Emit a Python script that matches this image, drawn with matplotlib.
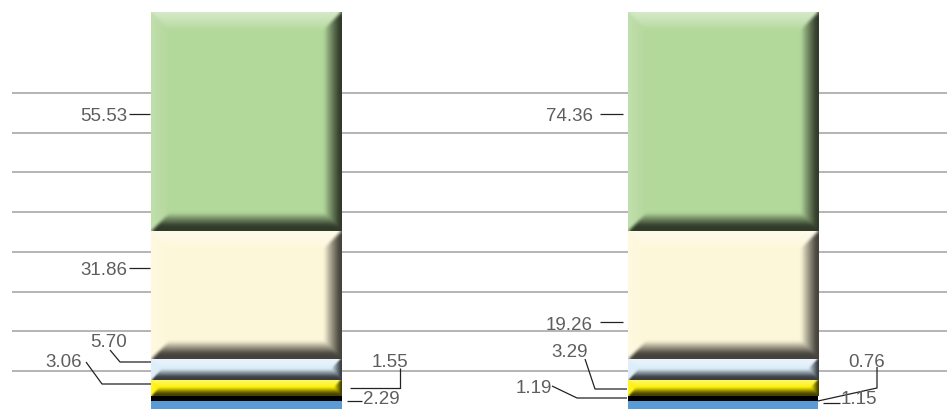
import numpy as np
import matplotlib
matplotlib.use("Agg")
import matplotlib.pyplot as plt

# ---------------- data ----------------
categories = ["Bar A", "Bar B"]
segments = ["Blue", "Black", "Yellow", "Light blue", "Cream", "Green"]
segment_colors = ["#5b9bd5", "#000000", "#fff200", "#d9ecf9", "#fdf7d9", "#b3d89b"]
segment_bevel = [False, False, True, True, True, True]

# segment heights as drawn in the picture (same for both bars)
left_heights = [2.44, 1.26, 4.03, 5.29, 32.23, 55.15]
right_heights = [2.44, 1.26, 4.03, 5.29, 32.23, 55.15]

# value labels printed beside the bars
left_labels = [55.53, 31.86, 5.70, 3.06, 1.55, 2.29]
right_labels = [74.36, 19.26, 3.29, 1.19, 0.76, 1.15]

gridlines = [10, 20, 30, 40, 50, 60, 70, 80]

# ---------------- figure ----------------
W_PX, H_PX = 947, 410
fig = plt.figure(figsize=(W_PX / 100, H_PX / 100), dpi=100)
ax = fig.add_axes([0, 0, 1, 1])
ax.set_xlim(-0.517, 1.470)
ax.set_ylim(0.43, 103.68)
ax.axis("off")

inv = ax.transData.inverted()


def P(x, y):
    """pixel position (from top-left) -> data coords"""
    return inv.transform((x, H_PX - y))


px_per_x = W_PX / (1.470 + 0.517)
px_per_y = H_PX / (103.68 - 0.43)

# gridlines
gx0 = P(12, 0)[0]
ax.hlines(gridlines, gx0, 1.470, color="#a8a8a8", lw=1.2, zorder=0)


def box_blur(img, r=2):
    if r <= 0:
        return img
    k = np.ones(2 * r + 1) / (2 * r + 1)
    pad = np.pad(img, ((r, r), (0, 0), (0, 0)), mode="edge")
    out = np.stack([np.apply_along_axis(lambda c: np.convolve(c, k, mode="valid"), 0, pad[:, :, ch])
                    for ch in range(3)], axis=-1)
    pad = np.pad(out, ((0, 0), (r, r), (0, 0)), mode="edge")
    out = np.stack([np.apply_along_axis(lambda c: np.convolve(c, k, mode="valid"), 1, pad[:, :, ch])
                    for ch in range(3)], axis=-1)
    return out


def bevel_image(rgb, W, H, bevel=18):
    W = max(int(round(W)), 1)
    H = max(int(round(H)), 1)
    u = np.arange(W)[None, :] + 0.5
    v = np.arange(H)[:, None] + 0.5
    dl = np.broadcast_to(u, (H, W))
    dr = W - dl
    dt = np.broadcast_to(v, (H, W))
    db = H - dt
    b = min(bevel, H / 2, W / 2)
    stack = np.stack([dl, dr, dt, db])
    idx = np.argmin(stack, axis=0)
    d = np.min(stack, axis=0)
    t = np.clip(1 - d / b, 0, 1)
    base = np.array(rgb, dtype=float)
    dark = base * 0.27
    img = np.tile(base, (H, W, 1))
    white = np.ones(3)
    # left: slight lighten
    f = 0.18 * t
    m = idx == 0
    img[m] = base + (white - base) * f[m][:, None]
    # right: darken
    f = np.clip(t * 1.15, 0, 1) ** 0.9
    m = idx == 1
    img[m] = base + (dark - base) * f[m][:, None]
    # top: lighten
    f = 0.45 * t ** 0.8
    m = idx == 2
    img[m] = base + (white - base) * f[m][:, None]
    # bottom: darken
    f = np.clip(t * 1.4, 0, 1) ** 0.9
    m = idx == 3
    img[m] = base + (dark - base) * f[m][:, None]
    r = 2 if H > 30 else 1
    return np.clip(box_blur(img, r), 0, 1)


width = 0.4
for xi, heights in enumerate([left_heights, right_heights]):
    bottom = 0.0
    for h, col, bev in zip(heights, segment_colors, segment_bevel):
        bars = ax.bar(xi, h, width=width, bottom=bottom, color=col,
                      edgecolor="none", zorder=2)
        rect = bars.patches[0]
        if bev:
            x0, y0 = rect.get_x(), rect.get_y()
            w, hh = rect.get_width(), rect.get_height()
            img = bevel_image(matplotlib.colors.to_rgb(col),
                              w * px_per_x, hh * px_per_y)
            im = ax.imshow(img, extent=(x0, x0 + w, y0, y0 + hh),
                           origin="upper", aspect="auto",
                           interpolation="bilinear", zorder=3)
            im.set_clip_path(rect)
        bottom += h

ax.set_xlim(-0.517, 1.470)
ax.set_ylim(0.43, 103.68)

# ---------------- labels with leader lines (pixel layout) ----------------
left_layout = [
    (127, 115, "right", [(129, 115), (150, 115)]),
    (127, 269, "right", [(129, 269), (150, 269)]),
    (109, 341, "center", [(110, 351), (120, 363), (151, 363)]),
    (64, 361, "center", [(86, 363), (102, 385), (151, 385)]),
    (390, 361, "center", [(400, 369), (400, 389), (350, 389)]),
    (381, 398, "center", [(347, 402), (362, 402)]),
]
right_layout = [
    (593, 115, "right", [(600, 115), (623, 115)]),
    (593, 324, "right", [(600, 323), (623, 323)]),
    (570, 351, "center", [(585, 360), (595, 390), (627, 390)]),
    (534, 387, "center", [(552, 387), (577, 399), (627, 399)]),
    (867, 361, "center", [(877, 368), (877, 389), (818, 402)]),
    (859, 398, "center", [(823, 404), (840, 404)]),
]

txt_kw = dict(fontsize=13.5, color="#5e5e5e", family=["Liberation Sans", "DejaVu Sans"],
              va="baseline", zorder=5)
for labels, layout in [(left_labels, left_layout), (right_labels, right_layout)]:
    for val, (tx, ty, ha, path) in zip(labels, layout):
        px, py = P(tx, ty + 6.5)
        ax.text(px, py, f"{val:.2f}", ha=ha, **txt_kw)
        pts = np.array([P(x, y) for x, y in path])
        ax.plot(pts[:, 0], pts[:, 1], color="#222222", lw=0.9, zorder=5,
                solid_capstyle="butt", clip_on=False)

fig.savefig("out.png", dpi=100)
